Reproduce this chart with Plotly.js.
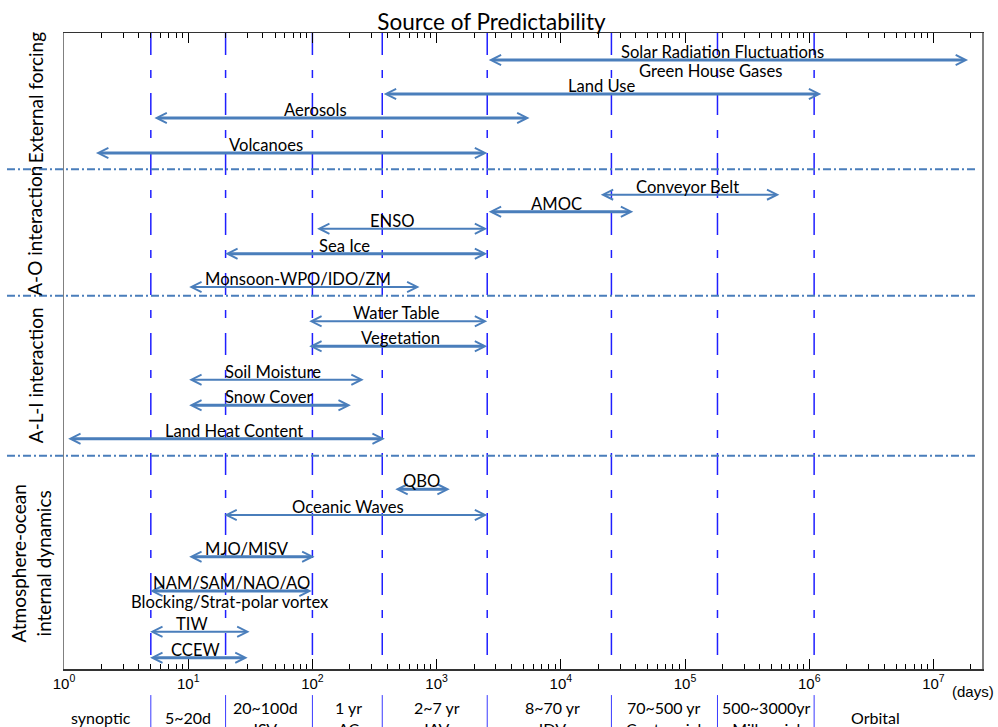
<!DOCTYPE html>
<html><head><meta charset="utf-8">
<script src="https://cdn.plot.ly/plotly-3.0.1.min.js"></script>
<style>html,body{margin:0;padding:0;background:#fff}#chart{width:998px;height:727px}</style>
</head><body><div id="chart"></div>
<script>
// ---- data: time-scale range (days) of each source of predictability ----
const sourceNames = ['Solar Radiation Fluctuations','Land Use','Aerosols','Volcanoes',
  'Conveyor Belt','AMOC','ENSO','Sea Ice','Monsoon-WPO/IDO/ZM',
  'Water Table','Vegetation','Soil Moisture','Snow Cover','Land Heat Content',
  'QBO','Oceanic Waves','MJO/MISV','NAM/SAM/NAO/AO','TIW','CCEW'];
const secondNames = ['Green House Gases','','','','','','','','','','','','','','','','','Blocking/Strat-polar vortex','',''];
const startDays = [2555, 365, 5.2, 1.76, 20400, 2555, 106, 19.3, 9.9, 91.6, 91.6, 9.9, 9.9, 1.05, 452, 19, 9.9, 4.8, 4.8, 4.8];
const endDays   = [1.9e7, 1.25e6, 5600, 2555, 575000, 38300, 2555, 2555, 728, 2555, 2555, 259, 204, 383, 1277, 2555, 104, 98.7, 31.2, 30.1];
const rowLevel  = [95.75, 90.41, 86.64, 81.13, 74.58, 71.90, 69.23, 65.30, 60.06, 54.67, 50.74, 45.49, 41.46, 36.21, 28.25, 24.21, 17.66, 12.26, 5.86, 1.78];
const labelDays = [201000, 21300, 106, 42, 104000, 9300, 444, 182, 76, 478, 515, 48, 45, 23.2, 760, 192, 29.5, 22.4, 10.8, 11.5];
const secondLabelDays = [159000,0,0,0,0,0,0,0,0,0,0,0,0,0,0,0,0,21.6,0,0];
const thinSources = ['Conveyor Belt','ENSO','Monsoon-WPO/IDO/ZM','Water Table','Soil Moisture','Oceanic Waves','TIW'];

// groups
const groupNames = ['External forcing','A-O interaction','A-L-I interaction','Atmosphere-ocean<br>internal dynamics'];
const groupLevel = [89.9, 68.9, 46.2, 16.5];
const groupSeparators = [78.57, 58.70, 33.54];

// time-scale bands
const bandEdges = [5, 20, 100, 365, 2555, 25550, 182500, 1095000];
const bandNames = ['synoptic','5~20d','20~100d<br>ISV','1 yr<br>AC','2~7 yr<br>IAV','8~70 yr<br>IDV','70~500 yr<br>Centennial','500~3000yr<br>Millennial','Orbital'];
const bandLabelDays = [1.99, 10, 42, 196, 1000, 8560, 67700, 450000, 3.4e6];

// axis ticks
const decades = [1, 10, 100, 1000, 1e4, 1e5, 1e6, 1e7];
const tickLabels = ['10<sup>0</sup>','10<sup>1</sup>','10<sup>2</sup>','10<sup>3</sup>','10<sup>4</sup>','10<sup>5</sup>','10<sup>6</sup>','10<sup>7</sup>'];

const minorVals = [];
decades.forEach(d => { for (let m = 2; m <= 9; m++) minorVals.push(d * m); });

const ARROW = '#4a7ebb';
const LFONT = 'Lato, Carlito, "Open Sans", sans-serif';
const NFONT = '"Liberation Sans Narrow", "Liberation Sans", Arial, sans-serif';
const L = Math.log10;

// vertical dashed boundary lines as a trace
const vx = [], vy = [];
bandEdges.forEach(b => { vx.push(b, b, null); vy.push(100, 0, null); });
const traces = [{
  x: vx, y: vy, type: 'scatter', mode: 'lines', hoverinfo: 'skip', showlegend: false,
  line: {color: '#1f1fff', width: 1.5, dash: '22px,15px,8px,15px'}
}];

const annotations = [];
sourceNames.forEach((name, i) => {
  const w = thinSources.includes(name) ? 2 : 3;
  annotations.push({
    xref: 'x', yref: 'y', axref: 'x', ayref: 'y',
    x: L(endDays[i]), y: rowLevel[i], ax: L(startDays[i]), ay: rowLevel[i],
    text: '', showarrow: true, arrowside: 'end+start',
    arrowhead: 5, startarrowhead: 5, arrowsize: 2 / w, startarrowsize: 2 / w,
    arrowwidth: w, arrowcolor: ARROW, standoff: 0, startstandoff: 0
  });
  annotations.push({
    xref: 'x', yref: 'y', x: L(labelDays[i]), y: rowLevel[i], yshift: 8,
    text: name, showarrow: false, font: {family: LFONT, size: 16.6, color: '#000'}
  });
  if (secondNames[i]) {
    annotations.push({
      xref: 'x', yref: 'y', x: L(secondLabelDays[i]), y: rowLevel[i], yshift: -10.5,
      text: secondNames[i], showarrow: false, font: {family: LFONT, size: 16.6, color: '#000'}
    });
  }
});
groupNames.forEach((g, i) => {
  annotations.push({
    xref: 'paper', yref: 'y', x: i === 3 ? -0.0354 : -0.0316, y: groupLevel[i],
    text: g, textangle: -90, showarrow: false, xanchor: 'center', yanchor: 'middle',
    font: {family: LFONT, size: 19, color: '#000'}
  });
});
bandNames.forEach((b, i) => {
  const two = b.indexOf('<br>') >= 0;
  annotations.push({
    xref: 'x', yref: 'paper', x: L(bandLabelDays[i]), y: two ? -0.0775 : -0.0755,
    yanchor: 'middle', text: b, showarrow: false,
    font: {family: LFONT, size: 16, color: '#000'}
  });
});
annotations.push({
  xref: 'paper', yref: 'paper', x: 0.990, y: -0.0357, yanchor: 'middle', xanchor: 'center',
  text: '(days)', showarrow: false, font: {family: NFONT, size: 15, color: '#000'}
});

const shapes = [];
groupSeparators.forEach(s => shapes.push({
  type: 'line', xref: 'paper', yref: 'y', x0: -0.0621, x1: 0.9935, y0: s, y1: s,
  line: {color: ARROW, width: 2, dash: '8px,3px,2px,3px'}
}));
bandEdges.forEach(b => shapes.push({
  type: 'line', xref: 'x', yref: 'paper', x0: b, x1: b, y0: -0.041, y1: -0.1,
  line: {color: '#3a3aff', width: 1}
}));

const layout = {
  width: 998, height: 727,
  margin: {l: 64, r: 16, t: 33, b: 58},
  paper_bgcolor: '#fff', plot_bgcolor: '#fff',
  showlegend: false, hovermode: false,
  title: {text: 'Source of Predictability', font: {family: LFONT, size: 22.5, color: '#000'},
    xref: 'paper', x: 0.4657, xanchor: 'center', yref: 'container', y: 0.9697, yanchor: 'middle'},
  xaxis: {
    type: 'log', range: [0, 7.391], tickmode: 'array', tickvals: decades, ticktext: tickLabels,
    ticks: 'inside', ticklen: 10, tickwidth: 1, tickcolor: '#000',
    showline: true, linecolor: '#333', linewidth: 1.5, mirror: 'ticks',
    showgrid: false, zeroline: false,
    tickfont: {family: NFONT, size: 15, color: '#000'},
    minor: {tickmode: 'array', tickvals: minorVals, ticks: 'inside', ticklen: 5, tickwidth: 1, tickcolor: '#000', showgrid: false}
  },
  yaxis: {
    range: [0, 100], showline: true, linecolor: '#808080', linewidth: 1.5, mirror: true,
    ticks: '', showticklabels: false, showgrid: false, zeroline: false
  },
  shapes: shapes,
  annotations: annotations
};
Plotly.newPlot('chart', traces, layout, {displayModeBar: false, staticPlot: true});
</script>
</body></html>
